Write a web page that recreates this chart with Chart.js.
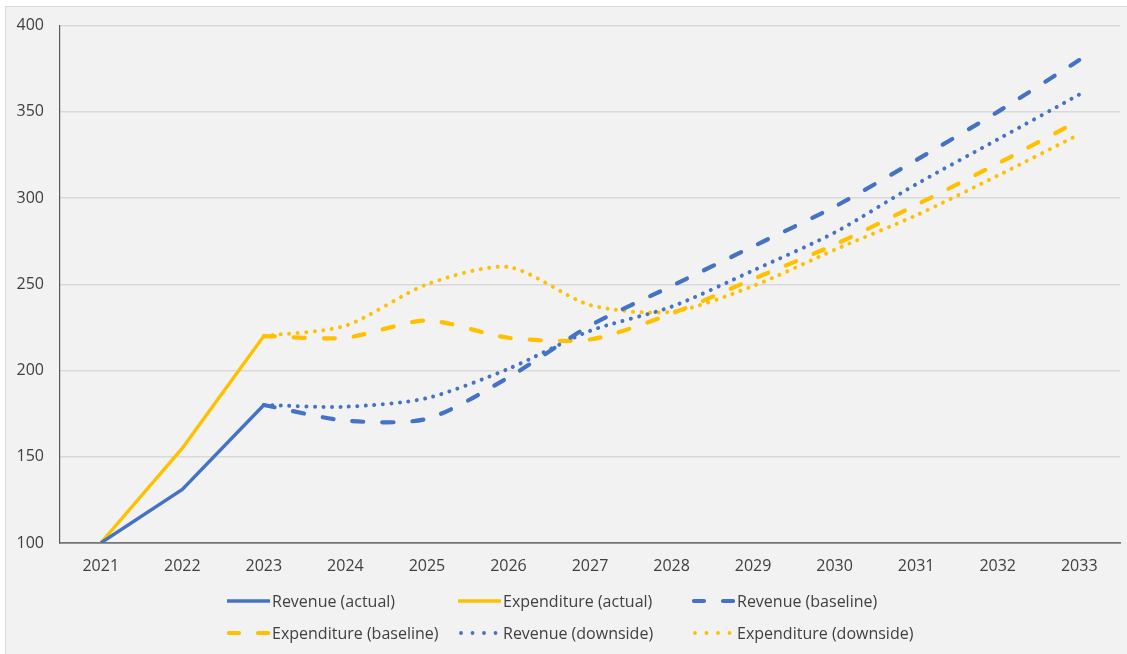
<!DOCTYPE html>
<html>
<head>
<meta charset="utf-8">
<script src="https://cdn.jsdelivr.net/npm/chart.js@4/dist/chart.umd.min.js"></script>
<style>
  html, body { margin: 0; padding: 0; background: #ffffff; }
  #wrap { position: relative; width: 1127px; height: 654px; overflow: hidden; }
  #frame { position: absolute; left: 5px; top: 6px; width: 1140px; height: 660px;
           background: #f2f2f2; border: 1px solid #d9d9d9; box-sizing: border-box; }
  #chart { position: absolute; left: 0; top: 0; }
  .item { position: absolute; display: flex; align-items: center; height: 22px;
          font-family: "Open Sans", sans-serif; font-size: 16px; color: #404040;
          white-space: nowrap; }
  .item canvas { margin-right: 2px; }
</style>
</head>
<body>
<div id="wrap">
  <div id="frame"></div>
  <canvas id="chart" width="1127" height="654"></canvas>
  <div id="legend"></div>
</div>
<script>
// Index values, 2021 = 100
const years = ['2021','2022','2023','2024','2025','2026','2027','2028','2029','2030','2031','2032','2033'];
const revenueActual       = [100, 131, 180, null, null, null, null, null, null, null, null, null, null];
const expenditureActual   = [100, 155, 220, null, null, null, null, null, null, null, null, null, null];
const revenueBaseline     = [null, null, 180, 171, 172, 196, 226, 249, 272, 295, 322, 350, 380];
const expenditureBaseline = [null, null, 220, 219, 229, 219, 218, 233, 253, 273, 296, 320, 345];
const revenueDownside     = [null, null, 180, 179, 184, 201, 223, 237, 258, 280, 308, 334, 360];
const expenditureDownside = [null, null, 220, 226, 250, 260, 238, 234, 249, 270, 290, 313, 337];
const yTicks = [100, 150, 200, 250, 300, 350, 400];

const BLUE = '#4472c4';
const GOLD = '#ffc000';
const DASH = [11, 19];
const DOT = [0.01, 8.5];

function series(label, data, color, kind) {
  const ds = {
    label, data,
    borderColor: color,
    backgroundColor: color,
    pointRadius: 0,
    pointHoverRadius: 0,
    spanGaps: false,
    fill: false
  };
  if (kind === 'solid') {
    ds.borderWidth = 3.4; ds.tension = 0; ds.borderCapStyle = 'butt';
  } else if (kind === 'dash') {
    ds.borderWidth = 4.2; ds.tension = 0.26; ds.borderDash = DASH; ds.borderCapStyle = 'round';
  } else {
    ds.borderWidth = 4; ds.tension = 0.26; ds.borderDash = DOT; ds.borderCapStyle = 'round';
  }
  ds.kind = kind;
  return ds;
}

const datasets = [
  series('Revenue (actual)', revenueActual, BLUE, 'solid'),
  series('Expenditure (actual)', expenditureActual, GOLD, 'solid'),
  series('Revenue (baseline)', revenueBaseline, BLUE, 'dash'),
  series('Expenditure (baseline)', expenditureBaseline, GOLD, 'dash'),
  series('Revenue (downside)', revenueDownside, BLUE, 'dot'),
  series('Expenditure (downside)', expenditureDownside, GOLD, 'dot')
];

const tickFont = { family: '"Open Sans", sans-serif', size: 16 };

new Chart(document.getElementById('chart'), {
  type: 'line',
  data: { labels: years, datasets },
  options: {
    responsive: false,
    animation: false,
    devicePixelRatio: 1,
    layout: { padding: { top: 25, right: 7, left: 0, bottom: 0 } },
    plugins: { legend: { display: false }, tooltip: { enabled: false } },
    scales: {
      x: {
        type: 'category',
        offset: true,
        grid: { display: false, drawTicks: false },
        border: { display: true, color: '#767676', width: 1.8 },
        ticks: { font: tickFont, color: '#404040', padding: 14, maxRotation: 0, autoSkip: false },
        afterFit(s) { s.height = 111; }
      },
      y: {
        min: yTicks[0],
        max: yTicks[yTicks.length - 1],
        afterBuildTicks(s) { s.ticks = yTicks.map(v => ({ value: v })); },
        grid: { color: '#d9d9d9', lineWidth: 1.5, drawTicks: false },
        border: { display: true, color: '#595959', width: 1.2 },
        ticks: { font: tickFont, color: '#404040', padding: 16 },
        afterFit(s) { s.width = 60; }
      }
    }
  }
});

// Legend laid out as a three-column grid under the plot
const legendPos = [
  [227, 601], [458, 601], [692, 601],
  [227, 633], [458, 633], [692, 633]
];
const legend = document.getElementById('legend');
datasets.forEach((ds, i) => {
  const item = document.createElement('div');
  item.className = 'item';
  item.style.left = legendPos[i][0] + 'px';
  item.style.top = (legendPos[i][1] - 11) + 'px';
  const c = document.createElement('canvas');
  c.width = 43; c.height = 12;
  const g = c.getContext('2d');
  g.strokeStyle = ds.borderColor;
  g.beginPath();
  if (ds.kind === 'solid') {
    g.lineWidth = 3.4; g.lineCap = 'butt';
    g.moveTo(0, 6); g.lineTo(43, 6);
  } else if (ds.kind === 'dash') {
    g.lineWidth = 4.2; g.lineCap = 'round';
    g.setLineDash([10, 19]);
    g.moveTo(2, 6); g.lineTo(43, 6);
  } else {
    g.lineWidth = 3.8; g.lineCap = 'round';
    g.setLineDash([0.01, 11.5]);
    g.moveTo(3, 6); g.lineTo(42, 6);
  }
  g.stroke();
  item.appendChild(c);
  const t = document.createElement('span');
  t.textContent = ds.label;
  item.appendChild(t);
  legend.appendChild(item);
});
</script>
</body>
</html>
